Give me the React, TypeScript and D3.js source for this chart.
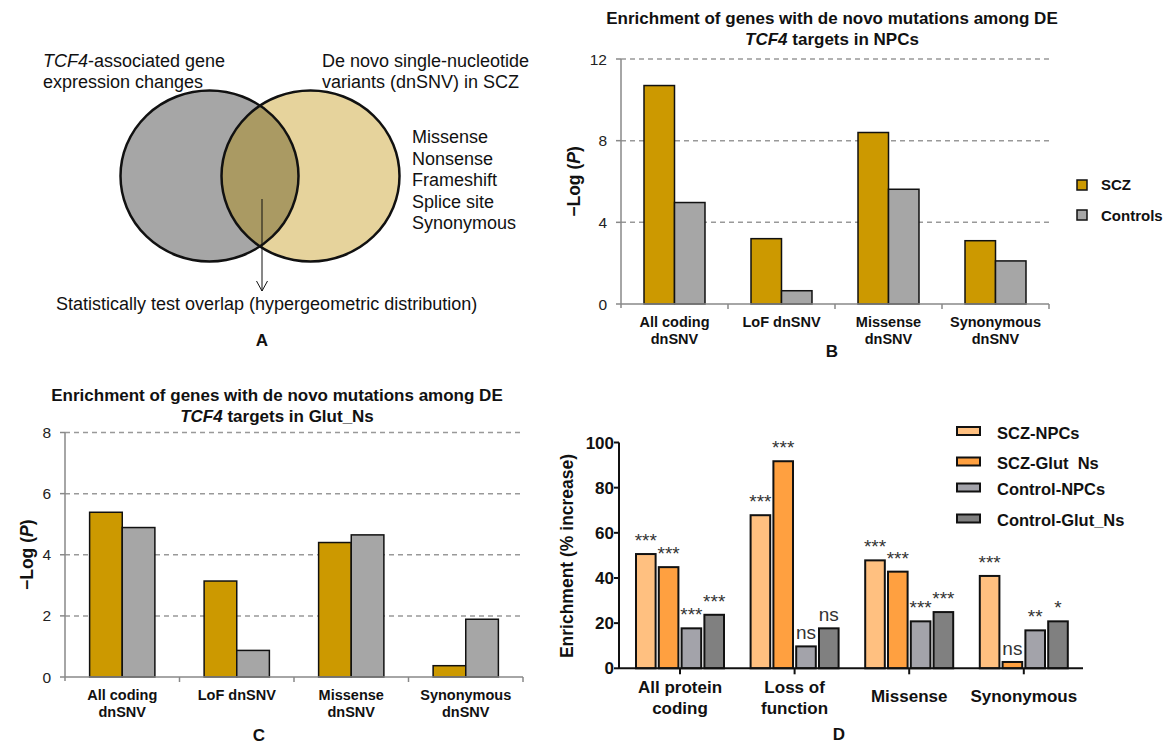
import * as d3 from "d3";

const FONT = "Liberation Sans, Arial, sans-serif";

// panel B / C data
const bcCategories = [["All coding", "dnSNV"], ["LoF dnSNV"], ["Missense", "dnSNV"], ["Synonymous", "dnSNV"]];
const bcSeries = ["SCZ", "Controls"];
const npcScz = [10.7, 3.2, 8.4, 3.1];
const npcControls = [4.97, 0.65, 5.62, 2.11];
const glutScz = [5.39, 3.14, 4.4, 0.37];
const glutControls = [4.89, 0.87, 4.65, 1.89];
const npcTicks = [0, 4, 8, 12];
const glutTicks = [0, 2, 4, 6, 8];

// panel D data
const dCategories = [["All protein", "coding"], ["Loss of", "function"], ["Missense"], ["Synonymous"]];
const dSeries = ["SCZ-NPCs", "SCZ-Glut  Ns", "Control-NPCs", "Control-Glut_Ns"];
const sczNpcs = [50.6, 67.8, 47.8, 40.9];
const sczGlut = [44.8, 91.7, 42.8, 2.8];
const controlNpcs = [17.7, 9.7, 20.8, 16.8];
const controlGlut = [23.7, 17.7, 24.9, 20.8];
const sczNpcsSig = ["***", "***", "***", "***"];
const sczGlutSig = ["***", "***", "***", "ns"];
const controlNpcsSig = ["***", "ns", "***", "**"];
const controlGlutSig = ["***", "ns", "***", "*"];
const dTicks = [0, 20, 40, 60, 80, 100];

const bcColors = ["#CC9900", "#A6A6A6"];
const dColors = ["#FFC080", "#FFA040", "#A3A3AA", "#808080"];

function Venn() {
  const left = { cx: 209.5, cy: 176, rx: 89, ry: 85.5 };
  const right = { cx: 310.5, cy: 176, rx: 89, ry: 85.5 };
  const listItems = ["Missense", "Nonsense", "Frameshift", "Splice site", "Synonymous"];
  return (
    <g fontFamily={FONT} fill="#111">
      <defs>
        <clipPath id="leftClip">
          <ellipse cx={left.cx} cy={left.cy} rx={left.rx} ry={left.ry} />
        </clipPath>
      </defs>
      <ellipse cx={left.cx} cy={left.cy} rx={left.rx} ry={left.ry} fill="#A6A6A6" />
      <ellipse cx={right.cx} cy={right.cy} rx={right.rx} ry={right.ry} fill="#E6D39C" />
      <ellipse cx={right.cx} cy={right.cy} rx={right.rx} ry={right.ry} fill="#AA9A63" clipPath="url(#leftClip)" />
      <ellipse cx={left.cx} cy={left.cy} rx={left.rx} ry={left.ry} fill="none" stroke="#111" strokeWidth={2.5} />
      <ellipse cx={right.cx} cy={right.cy} rx={right.rx} ry={right.ry} fill="none" stroke="#111" strokeWidth={2.5} />
      <line x1={262} y1={199} x2={262} y2={291} stroke="#111" strokeWidth={1} />
      <path d="M256.5,281 L262,291 L267.5,281" fill="none" stroke="#111" strokeWidth={1} />
      <text x={43} y={67} fontSize={18}>
        <tspan fontStyle="italic">TCF4</tspan>-associated gene
      </text>
      <text x={43} y={88} fontSize={18}>expression changes</text>
      <text x={322} y={67} fontSize={18}>De novo single-nucleotide</text>
      <text x={322} y={88} fontSize={18}>variants (dnSNV) in SCZ</text>
      {listItems.map((t, i) => (
        <text key={t} x={412} y={143 + i * 21.5} fontSize={18}>{t}</text>
      ))}
      <text x={56} y={310} fontSize={18}>Statistically test overlap (hypergeometric distribution)</text>
      <text x={262} y={346} fontSize={17} fontWeight="bold" textAnchor="middle">A</text>
    </g>
  );
}

type BCProps = {
  x0: number; x1: number; y0: number; y1: number; yMax: number; ticks: number[];
  values: number[][]; title: string; titleX: number; titleY: number; yLabelX: number;
  labelY: number; letter: string; letterX: number; letterY: number; legend?: boolean;
};

function LogPPanel(p: BCProps) {
  const x = d3.scaleBand<number>().domain(d3.range(bcCategories.length)).range([p.x0, p.x1]).padding(0);
  const half = x.bandwidth() * 0.285;
  const inner = d3.scaleBand<number>().domain(d3.range(bcSeries.length)).range([-half, half]).padding(0);
  const y = d3.scaleLinear().domain([0, p.yMax]).range([p.y0, p.y1]);
  const yMid = (p.y0 + p.y1) / 2;
  return (
    <g fontFamily={FONT}>
      <text x={p.titleX} y={p.titleY} fontSize={17} fontWeight="bold" textAnchor="middle" fill="#111">
        Enrichment of genes with de novo mutations among DE
      </text>
      <text x={p.titleX} y={p.titleY + 21} fontSize={17} fontWeight="bold" textAnchor="middle" fill="#111">
        <tspan fontStyle="italic">TCF4</tspan> targets in {p.title}
      </text>
      {p.ticks.filter((t) => t > 0).map((t) => (
        <line key={t} x1={p.x0} x2={p.x1} y1={y(t)} y2={y(t)} stroke="#999" strokeWidth={1.5} strokeDasharray="5,4" />
      ))}
      {p.values.map((vals, s) =>
        vals.map((v, i) => (
          <rect key={`${s}-${i}`} x={x(i)! + x.bandwidth() / 2 + inner(s)!} y={y(v)}
            width={inner.bandwidth()} height={p.y0 - y(v)} fill={bcColors[s]} stroke="#111" strokeWidth={1.5} />
        ))
      )}
      <line x1={p.x0} x2={p.x0} y1={p.y1} y2={p.y0 + 4} stroke="#888" strokeWidth={1.5} />
      <line x1={p.x0} x2={p.x1} y1={p.y0} y2={p.y0} stroke="#888" strokeWidth={1.5} />
      {p.ticks.map((t) => (
        <g key={t}>
          <line x1={p.x0 - 5} x2={p.x0} y1={y(t)} y2={y(t)} stroke="#888" strokeWidth={1.5} />
          <text x={p.x0 - 14} y={y(t)} dy="0.36em" fontSize={15.5} textAnchor="end" fill="#222">{t}</text>
        </g>
      ))}
      {bcCategories.map((_, i) => (
        <line key={i} x1={x(i)! + x.bandwidth()} x2={x(i)! + x.bandwidth()} y1={p.y0} y2={p.y0 + 5} stroke="#888" strokeWidth={1.5} />
      ))}
      {bcCategories.map((lines, i) =>
        lines.map((l, j) => (
          <text key={`${i}-${j}`} x={x(i)! + x.bandwidth() / 2} y={p.labelY + j * 17} dy="0.36em"
            fontSize={14.5} fontWeight="bold" textAnchor="middle" fill="#111">{l}</text>
        ))
      )}
      <text transform={`translate(${p.yLabelX},${yMid}) rotate(-90)`} dy="0.36em" fontSize={17.5}
        fontWeight="bold" textAnchor="middle" fill="#111">
        −Log (<tspan fontStyle="italic">P</tspan>)
      </text>
      <text x={p.letterX} y={p.letterY} dy="0.36em" fontSize={17} fontWeight="bold" textAnchor="middle" fill="#111">{p.letter}</text>
      {p.legend && bcSeries.map((s, i) => (
        <g key={s}>
          <rect x={1077} y={180 + i * 30} width={10} height={10} fill={bcColors[i]} stroke="#111" strokeWidth={1.5} />
          <text x={1101} y={185 + i * 31} dy="0.36em" fontSize={15} fontWeight="bold" fill="#111">{s}</text>
        </g>
      ))}
    </g>
  );
}

function EnrichmentPanel() {
  const x0 = 619, x1 = 1083, y0 = 668.3, y1 = 442.5;
  const values = [sczNpcs, sczGlut, controlNpcs, controlGlut];
  const sig = [sczNpcsSig, sczGlutSig, controlNpcsSig, controlGlutSig];
  const x = d3.scaleBand<number>().domain(d3.range(dCategories.length)).range([622.7, 1081.1]).padding(0);
  const inner = d3.scaleBand<number>().domain(d3.range(dSeries.length)).range([-44, 44]).paddingInner(0.14);
  const y = d3.scaleLinear().domain([0, 100]).range([y0, y1]);
  const cx = (i: number) => x(i)! + x.bandwidth() / 2;
  return (
    <g fontFamily={FONT}>
      {values.map((vals, s) =>
        vals.map((v, i) => (
          <g key={`${s}-${i}`}>
            <rect x={cx(i) + inner(s)!} y={y(v)} width={inner.bandwidth()} height={y0 - y(v)}
              fill={dColors[s]} stroke="#111" strokeWidth={2} />
            <text x={cx(i) + inner(s)! + inner.bandwidth() / 2} y={y(v) - 7} fontSize={19}
              textAnchor="middle" fill="#333">{sig[s][i]}</text>
          </g>
        ))
      )}
      <line x1={x0} x2={x0} y1={y1} y2={y0} stroke="#111" strokeWidth={2} />
      <line x1={x0} x2={x1} y1={y0} y2={y0} stroke="#111" strokeWidth={2} />
      {dTicks.map((t) => (
        <g key={t}>
          <line x1={x0 - 5} x2={x0} y1={y(t)} y2={y(t)} stroke="#111" strokeWidth={2} />
          <text x={x0 - 5} y={y(t)} dy="0.36em" fontSize={17} fontWeight="bold" textAnchor="end" fill="#111">{t}</text>
        </g>
      ))}
      {dCategories.map((lines, i) => (
        <g key={i}>
          <line x1={cx(i)} x2={cx(i)} y1={y0} y2={y0 + 6} stroke="#111" strokeWidth={2} />
          {lines.map((l, j) => (
            <text key={j} x={cx(i)} y={lines.length === 1 ? 696 : 687 + j * 21} dy="0.36em"
              fontSize={17} fontWeight="bold" textAnchor="middle" fill="#111">{l}</text>
          ))}
        </g>
      ))}
      <text transform={`translate(567,556) rotate(-90)`} dy="0.36em" fontSize={17.5} fontWeight="bold"
        textAnchor="middle" fill="#111">Enrichment (% increase)</text>
      <text x={839} y={734} dy="0.36em" fontSize={17} fontWeight="bold" textAnchor="middle" fill="#111">D</text>
      {dSeries.map((s, i) => {
        const ly = [431, 461.5, 487.5, 518.5][i];
        return (
          <g key={s}>
            <rect x={957} y={ly - 4} width={23} height={8} fill={dColors[i]} stroke="#111" strokeWidth={2} />
            <text x={997} y={ly + 2} dy="0.36em" fontSize={16.5} fontWeight="bold" fill="#111"
              style={{ whiteSpace: "pre" }}>{s}</text>
          </g>
        );
      })}
    </g>
  );
}

export default function App() {
  return (
    <svg width={1169} height={744} style={{ position: "absolute", left: 0, top: 0, background: "#fff" }}>
      <rect width={1169} height={744} fill="#fff" />
      <Venn />
      <LogPPanel x0={621} x1={1049} y0={304} y1={59} yMax={12} ticks={npcTicks}
        values={[npcScz, npcControls]} title="NPCs" titleX={832} titleY={24} yLabelX={574}
        labelY={322} letter="B" letterX={832} letterY={351} legend />
      <LogPPanel x0={65} x1={523} y0={677} y1={432.5} yMax={8} ticks={glutTicks}
        values={[glutScz, glutControls]} title="Glut_Ns" titleX={277} titleY={401} yLabelX={27}
        labelY={695} letter="C" letterX={259} letterY={735} />
      <EnrichmentPanel />
    </svg>
  );
}
